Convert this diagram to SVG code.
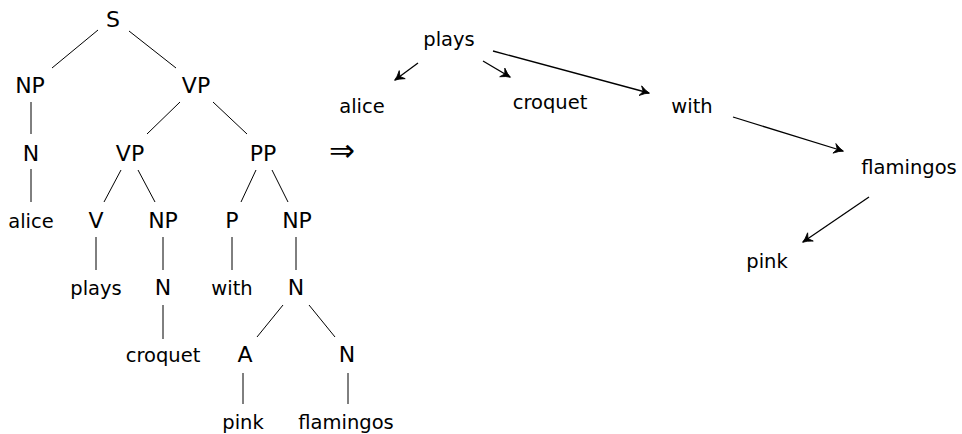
<svg xmlns="http://www.w3.org/2000/svg" width="962" height="434" viewBox="0 0 962 434">
<defs>
<style>
text{font-family:"DejaVu Sans","Liberation Sans",sans-serif;font-size:19.5px;fill:#000;text-anchor:middle}
text.c{font-size:22px}
.t{stroke:#000;stroke-width:1;fill:none}
.a{stroke:#000;stroke-width:1.3;fill:none;marker-end:url(#arr)}
</style>
<marker id="arr" markerUnits="userSpaceOnUse" viewBox="-10 -6 12 12" refX="0" refY="0" markerWidth="12" markerHeight="12" orient="auto">
<path d="M-9,-5 Q-3.5,-1 0.5,0 Q-3.5,1 -9,5 L-6,0 Z" fill="#000" stroke="#000" stroke-width="0.8" stroke-linejoin="round"/>
</marker>
</defs>
<rect width="962" height="434" fill="#fff"/>
<g id="connectors">
<line class="t" x1="98" y1="30" x2="52" y2="68"/>
<line class="t" x1="129" y1="31" x2="176" y2="68"/>
<line class="t" x1="31" y1="102" x2="31" y2="134"/>
<line class="t" x1="31" y1="169" x2="31" y2="202"/>
<line class="t" x1="180" y1="102" x2="147" y2="134"/>
<line class="t" x1="213" y1="102" x2="247" y2="134"/>
<line class="t" x1="121" y1="170" x2="104" y2="202"/>
<line class="t" x1="138" y1="170" x2="155" y2="202"/>
<line class="t" x1="256" y1="170" x2="241" y2="202"/>
<line class="t" x1="272" y1="170" x2="288" y2="202"/>
<line class="t" x1="96" y1="237" x2="96" y2="270"/>
<line class="t" x1="163" y1="237" x2="163" y2="270"/>
<line class="t" x1="232" y1="237" x2="232" y2="270"/>
<line class="t" x1="296" y1="237" x2="296" y2="270"/>
<line class="t" x1="163" y1="305" x2="163" y2="339"/>
<line class="t" x1="283" y1="305" x2="257" y2="337"/>
<line class="t" x1="309" y1="305" x2="335" y2="337"/>
<line class="t" x1="243" y1="373" x2="243" y2="404"/>
<line class="t" x1="348" y1="373" x2="348" y2="404"/>
<line class="a" x1="418" y1="63" x2="395" y2="80"/>
<line class="a" x1="483" y1="61" x2="510" y2="77"/>
<line class="a" x1="493" y1="51" x2="649" y2="93"/>
<line class="a" x1="733" y1="117" x2="843" y2="151"/>
<line class="a" x1="869" y1="197" x2="803" y2="242"/>
</g>
<g id="n-S"><text class="c" x="113" y="27">S</text></g>
<g id="n-NP1"><text class="c" x="30" y="93">NP</text></g>
<g id="n-VP1"><text class="c" x="196" y="93">VP</text></g>
<g id="n-N1"><text class="c" x="31" y="161">N</text></g>
<g id="n-VP2"><text class="c" x="130" y="161">VP</text></g>
<g id="n-PP"><text class="c" x="263" y="161">PP</text></g>
<g id="n-alice"><text x="31" y="228">alice</text></g>
<g id="n-V"><text class="c" x="96" y="228">V</text></g>
<g id="n-NP2"><text class="c" x="163" y="228">NP</text></g>
<g id="n-P"><text class="c" x="232" y="228">P</text></g>
<g id="n-NP3"><text class="c" x="297" y="228">NP</text></g>
<g id="n-plays"><text x="96" y="295">plays</text></g>
<g id="n-N2"><text class="c" x="163" y="295">N</text></g>
<g id="n-with"><text x="232" y="295">with</text></g>
<g id="n-N3"><text class="c" x="296" y="295">N</text></g>
<g id="n-croquet"><text x="163" y="362">croquet</text></g>
<g id="n-A"><text class="c" x="245" y="362">A</text></g>
<g id="n-N4"><text class="c" x="347" y="362">N</text></g>
<g id="n-pink"><text x="243" y="429">pink</text></g>
<g id="n-flamingos"><text x="346" y="429">flamingos</text></g>
<g id="arrow-sym"><text x="342" y="161" style="font-family:'DejaVu Sans',sans-serif;font-size:31px;font-weight:200">⇒</text></g>
<g id="d-plays"><text x="449" y="46">plays</text></g>
<g id="d-alice"><text x="362" y="113">alice</text></g>
<g id="d-croquet"><text x="550" y="109">croquet</text></g>
<g id="d-with"><text x="692" y="113">with</text></g>
<g id="d-flamingos"><text x="909" y="174">flamingos</text></g>
<g id="d-pink"><text x="767" y="268">pink</text></g>
</svg>
